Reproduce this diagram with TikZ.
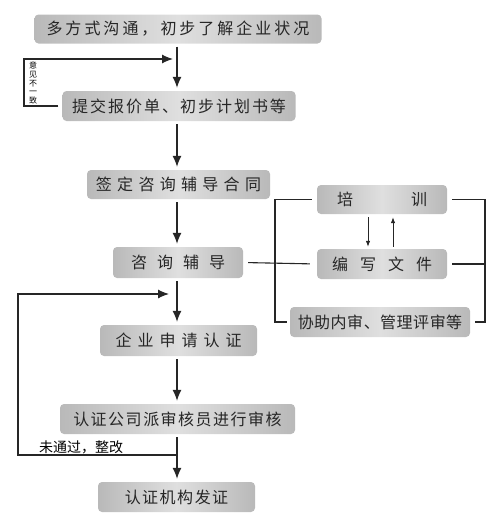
\documentclass[tikz,border=0pt]{standalone}
\usepackage{fontspec}
\newfontfamily\cjk{Noto Sans CJK SC}
\usetikzlibrary{arrows.meta,calc}
\makeatletter
\newcommand\trk[2]{\def\trk@sep{}\@tfor\trk@c:=#2\do{\trk@sep\trk@c\def\trk@sep{\hspace{#1}}}}
\makeatother
\begin{document}
\begin{tikzpicture}[x=1pt,y=-1pt,
  box/.style={rounded corners=4pt, left color=gray!55, right color=gray!55, middle color=gray!25,
    inner sep=0pt, minimum height=29pt, font=\cjk\fontsize{16}{18}\selectfont, text=black!85},
  ln/.style={line width=1.1pt, draw=black!85},
  arr/.style={ln, -{Latex[length=11pt,width=9pt]}},
  sarr/.style={line width=0.8pt, draw=black!85, -{Latex[length=6pt,width=4.5pt]}}]
\useasboundingbox (0,0) rectangle (500,525);
% main column
\node[box, minimum width=287pt] (b1) at (178,29) {\trk{3pt}{多方式沟通，初步了解企业状况}};
\node[box, minimum width=233pt, minimum height=30pt] (b2) at (179,106) {\trk{2pt}{提交报价单、初步计划书等}};
\node[box, minimum width=183pt] (b3) at (178.5,184.5) {\trk{5.3pt}{签定咨询辅导合同}};
\node[box, minimum width=130pt, minimum height=31pt] (b4) at (178,262.5) {\trk{10pt}{咨询辅导}};
\node[box, minimum width=157pt, minimum height=31pt] (b5) at (178.5,340.5) {\trk{6pt}{企业申请认证}};
\node[box, minimum width=235pt, minimum height=30pt] (b6) at (177.5,419) {\trk{1.5pt}{认证公司派审核员进行审核}};
\node[box, minimum width=157pt, minimum height=30pt] (b7) at (176.5,497) {\trk{1.5pt}{认证机构发证}};
% right column
\node[box, minimum width=130pt] (r1) at (382,199.5) {\trk{58pt}{培训}};
\node[box, minimum width=130pt, minimum height=30pt] (r2) at (382,264) {\trk{12pt}{编写文件}};
\node[box, minimum width=180pt, minimum height=30pt] (r3) at (380,322) {\trk{0.5pt}{协助内审、管理评审等}};
% helper coordinates
\coordinate (m1) at (177,59);
\coordinate (l1) at (24,59);
\coordinate (m2) at (177,294);
\coordinate (l2) at (18,294);
\coordinate (m3) at (177,455);
\coordinate (lb) at (275,0);
\coordinate (rb) at (485,0);
% main arrows
\draw[arr, shorten <=3pt, shorten >=3pt] (b1.south -| m1) -- (b2.north -| m1);
\draw[arr, shorten <=3pt, shorten >=3pt] (b2.south -| m1) -- (b3.north -| m1);
\draw[arr, shorten <=3pt, shorten >=3pt] (b3.south -| m1) -- (b4.north -| m1);
\draw[arr, shorten <=3pt, shorten >=3pt] (b4.south -| m1) -- (b5.north -| m1);
\draw[arr, shorten <=3pt, shorten >=3pt] (b5.south -| m1) -- (b6.north -| m1);
\draw[arr, shorten <=3pt, shorten >=3pt] (b6.south -| m1) -- (b7.north -| m1);
% feedback loops
\draw[arr, shorten <=4pt, shorten >=4pt] (b2.west) -- (b2.west -| l1) -- (l1) -- (m1);
\node[font=\cjk\fontsize{8}{8.6}\selectfont, align=center, inner sep=0pt] (t1) at (33,83) {意\\见\\不\\一\\致};
\draw[arr, shorten >=8pt] (m3) -- (m3 -| l2) -- (l2) -- (m2);
\node[font=\cjk\fontsize{14}{16}\selectfont, inner sep=0pt, anchor=south west] (t2) at (39,454) {未通过，整改};
% right side connectors
\draw[ln, shorten <=5pt, shorten >=3pt] (r1.west) -- (r1.west -| lb) -- (r3.west -| lb) -- (r3.west);
\draw[ln, shorten <=5pt, shorten >=5pt] (r1.east) -- (r1.east -| rb) -- (r3.east -| rb) -- (r3.east);
\draw[ln, shorten <=5pt] (r2.east) -- (r2.east -| rb);
\draw[ln, shorten <=5pt, shorten >=7pt] (b4.east) -- (r2.west);
\draw[sarr, shorten <=3pt, shorten >=2pt] ([xshift=-14pt]r1.south) -- ([xshift=-14pt]r2.north);
\draw[sarr, shorten <=2pt, shorten >=3pt] ([xshift=11pt]r2.north) -- ([xshift=11pt]r1.south);
\end{tikzpicture}
\end{document}
